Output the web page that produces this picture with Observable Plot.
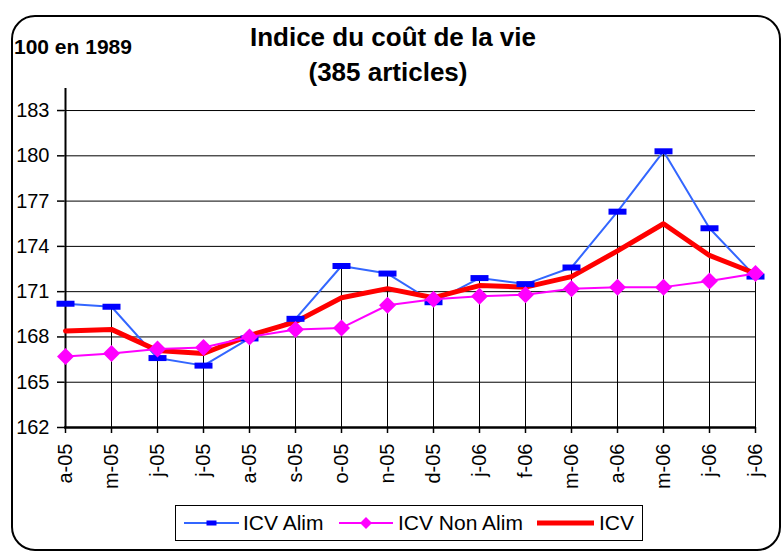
<!DOCTYPE html>
<html>
<head>
<meta charset="utf-8">
<script src="https://cdn.jsdelivr.net/npm/d3@7"></script>
<script src="https://cdn.jsdelivr.net/npm/@observablehq/plot@0.6"></script>
<style>
  html, body { margin: 0; padding: 0; background: #fff; }
  #wrap { position: relative; width: 783px; height: 554px; overflow: hidden; font-family: "Liberation Sans", Arial, sans-serif; color: #000; }
  #frame { position: absolute; left: 11px; top: 15px; width: 766px; height: 532px; border: 2.5px solid #000; border-radius: 24px; }
  #chart { position: absolute; left: 0; top: 0; }
  .title { position: absolute; width: 400px; text-align: center; font-weight: bold; font-size: 26px; line-height: 26px; white-space: nowrap; }
  #unit { position: absolute; left: 14px; top: 36px; font-weight: bold; font-size: 21px; line-height: 21px; white-space: nowrap; }
  #legend { position: absolute; left: 175px; top: 505px; width: 466px; height: 34px; border: 1px solid #000; background: #fff; }
  #legend .lt { position: absolute; top: 6px; font-size: 21px; line-height: 22px; white-space: nowrap; }
  #legend svg { position: absolute; left: 0; top: 0; }
</style>
</head>
<body>
<div id="wrap">
  <div id="frame"></div>
  <div id="chart"></div>
  <div class="title" style="top:24px; left:193px">Indice du coût de la vie</div>
  <div class="title" style="top:59px; left:188px">(385 articles)</div>
  <div id="unit">100 en 1989</div>
  <div id="legend"></div>
</div>
<script>
// Periods (April 2005 → July 2006) and their tick labels
const periods = ["2005-04","2005-05","2005-06","2005-07","2005-08","2005-09","2005-10","2005-11","2005-12","2006-01","2006-02","2006-03","2006-04","2006-05","2006-06","2006-07"];
const tickLabels = ["a-05","m-05","j-05","j-05","a-05","s-05","o-05","n-05","d-05","j-06","f-06","m-06","a-06","m-06","j-06","j-06"];

// Series values (100 en 1989)
const icvAlim    = [170.2,170.0,166.6,166.1,167.9,169.2,172.7,172.2,170.3,171.9,171.5,172.6,176.3,180.3,175.2,172.0];
const icvNonAlim = [166.7,166.9,167.2,167.3,168.0,168.5,168.6,170.1,170.5,170.7,170.8,171.2,171.3,171.3,171.7,172.2];
const icv        = [168.4,168.5,167.1,166.9,168.1,169.0,170.6,171.2,170.6,171.4,171.3,172.0,173.7,175.5,173.4,172.2];

// Y ticks
const yTicks = [162,165,168,171,174,177,180,183];

const seriesNames = ["ICV Alim","ICV Non Alim","ICV"];
const colors = {line: {"ICV Alim":"#3366FF","ICV Non Alim":"#FF00FF","ICV":"#FF0000"}, marker: {"ICV Alim":"#0000FF","ICV Non Alim":"#FF00FF"}};

const rows = periods.map((p, i) => ({p, alim: icvAlim[i], nonAlim: icvNonAlim[i], icv: icv[i], top: Math.max(icvAlim[i], icvNonAlim[i], icv[i])}));

const yMin = 162, yMax = 184.46;

const dashSymbol = { draw(ctx) { ctx.moveTo(-9,-3); ctx.lineTo(9,-3); ctx.lineTo(9,3); ctx.lineTo(-9,3); ctx.closePath(); } };
const diamondSymbol = { draw(ctx) { ctx.moveTo(0,-8.5); ctx.lineTo(8.5,0); ctx.lineTo(0,8.5); ctx.lineTo(-8.5,0); ctx.closePath(); } };

const chart = Plot.plot({
  width: 783,
  height: 554,
  marginLeft: 64,
  marginRight: 28,
  marginTop: 88,
  marginBottom: 127,
  style: {fontFamily: "'Liberation Sans', Arial, sans-serif", fontSize: "20px", color: "#000", background: "transparent", overflow: "visible"},
  x: {type: "point", domain: periods, padding: 0, label: null},
  y: {domain: [yMin, yMax], label: null},
  marks: [
    Plot.ruleY(yTicks.filter(t => t > yMin), {stroke: "#000", strokeWidth: 1}),
    Plot.ruleX(rows, {x: "p", y1: yMin, y2: "top", stroke: "#000", strokeWidth: 1}),
    Plot.ruleX([periods[0]], {y1: yMin, y2: yMax, stroke: "#000", strokeWidth: 2}),
    Plot.ruleY([yMin], {stroke: "#000", strokeWidth: 2.5}),
    Plot.axisY({ticks: yTicks, tickSize: 7, tickPadding: 8, fontSize: 20, strokeWidth: 1.5}),
    Plot.axisX({tickSize: 6, tickRotate: -90, tickPadding: 10, fontSize: 20, strokeWidth: 1.5, tickFormat: d => tickLabels[periods.indexOf(d)]}),
    Plot.line(rows, {x: "p", y: "alim", stroke: colors.line["ICV Alim"], strokeWidth: 2}),
    Plot.line(rows, {x: "p", y: "icv", stroke: colors.line["ICV"], strokeWidth: 5, strokeLinejoin: "round"}),
    Plot.dot(rows, {x: "p", y: "alim", symbol: dashSymbol, fill: colors.marker["ICV Alim"], stroke: "none", r: 5}),
    Plot.line(rows, {x: "p", y: "nonAlim", stroke: colors.line["ICV Non Alim"], strokeWidth: 2}),
    Plot.dot(rows, {x: "p", y: "nonAlim", symbol: diamondSymbol, fill: colors.marker["ICV Non Alim"], stroke: "none", r: 5})
  ]
});
document.getElementById("chart").appendChild(chart);

// Legend
const legend = document.getElementById("legend");
const ns = "http://www.w3.org/2000/svg";
const lsvg = document.createElementNS(ns, "svg");
lsvg.setAttribute("width", 466); lsvg.setAttribute("height", 34);
const items = [
  {name: seriesNames[0], x0: 8, x1: 63, tx: 67, w: 2, marker: "dash"},
  {name: seriesNames[1], x0: 163, x1: 217, tx: 222, w: 2, marker: "diamond"},
  {name: seriesNames[2], x0: 361, x1: 418, tx: 423, w: 5, marker: null}
];
const cy = 17;
items.forEach(it => {
  const ln = document.createElementNS(ns, "line");
  ln.setAttribute("x1", it.x0); ln.setAttribute("x2", it.x1);
  ln.setAttribute("y1", cy); ln.setAttribute("y2", cy);
  ln.setAttribute("stroke", colors.line[it.name]); ln.setAttribute("stroke-width", it.w);
  lsvg.appendChild(ln);
  const cx = (it.x0 + it.x1) / 2;
  if (it.marker === "dash") {
    const r = document.createElementNS(ns, "rect");
    r.setAttribute("x", cx - 5); r.setAttribute("y", cy - 2.5); r.setAttribute("width", 10); r.setAttribute("height", 5);
    r.setAttribute("fill", colors.marker[it.name]);
    lsvg.appendChild(r);
  } else if (it.marker === "diamond") {
    const pth = document.createElementNS(ns, "path");
    pth.setAttribute("d", `M${cx},${cy-6}L${cx+6},${cy}L${cx},${cy+6}L${cx-6},${cy}Z`);
    pth.setAttribute("fill", colors.marker[it.name]);
    lsvg.appendChild(pth);
  }
  const t = document.createElement("div");
  t.className = "lt"; t.style.left = it.tx + "px"; t.textContent = it.name;
  legend.appendChild(t);
});
legend.appendChild(lsvg);
</script>
</body>
</html>
